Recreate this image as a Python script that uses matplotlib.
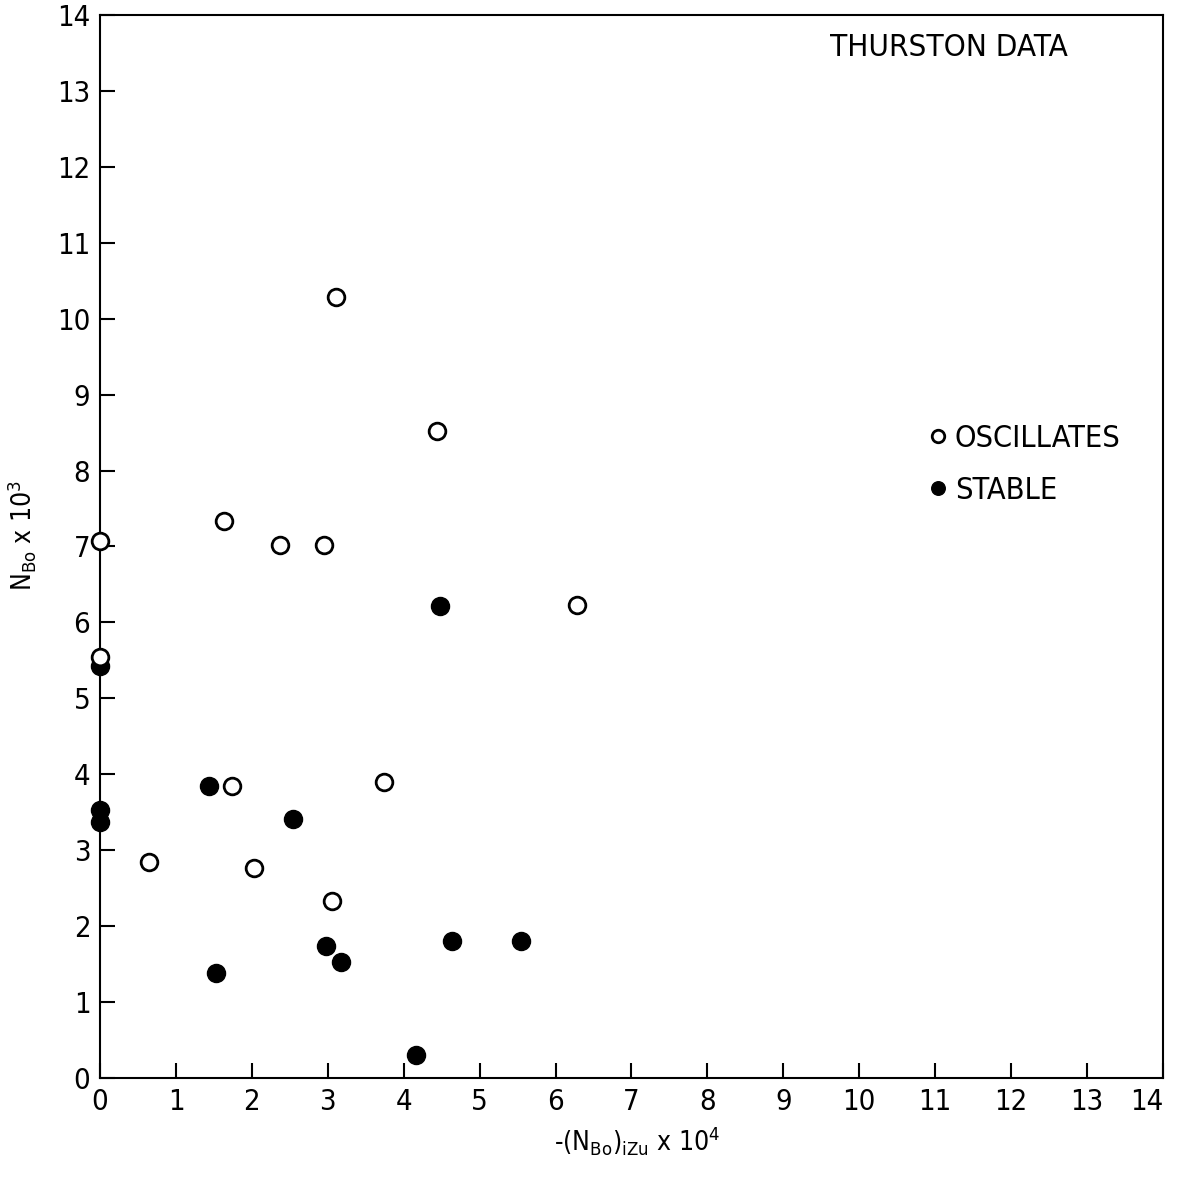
import matplotlib.pyplot as plt

plt.rcParams['font.family'] = ['DejaVu Sans']
plt.rcParams['font.stretch'] = 'condensed'
plt.rcParams['mathtext.default'] = 'regular'

# oscillating runs
osc_x = [0.0, 0.0, 0.65, 1.63, 1.74, 2.03, 2.37, 2.95, 3.11, 3.06, 3.74, 4.44, 6.28]
osc_y = [7.07, 5.55, 2.85, 7.34, 3.85, 2.77, 7.02, 7.02, 10.28, 2.33, 3.90, 8.52, 6.23]

# stable runs
stb_x = [0.0, 0.0, 0.0, 1.44, 2.54, 1.53, 2.98, 3.18, 4.16, 4.48, 4.64, 5.55]
stb_y = [5.43, 3.53, 3.37, 3.85, 3.41, 1.38, 1.74, 1.53, 0.30, 6.21, 1.80, 1.80]

ticks = list(range(0, 15))

fig = plt.figure(figsize=(11.77, 11.79), dpi=100)
ax = fig.add_axes([0.085, 0.0857, 0.903, 0.9016])

ax.plot(stb_x, stb_y, 'o', color='black', markersize=13, clip_on=False,
        label='STABLE', zorder=3)
ax.plot(osc_x, osc_y, 'o', mfc='white', mec='black', mew=2, markersize=12,
        clip_on=False, label='OSCILLATES', zorder=4)

ax.set_xlim(0, 14)
ax.set_ylim(0, 14)
ax.set_xticks(ticks)
ax.set_yticks(ticks)
ax.tick_params(direction='in', length=11, width=1.5, labelsize=21, pad=7)
for s in ax.spines.values():
    s.set_linewidth(1.5)

# keep the last x label inside the figure
last = ax.get_xticklabels()[-1]
last.set_horizontalalignment('right')
last.set_x(14.2)

ax.set_xlabel(r'-$(N_{Bo})_{iZu}$ x $10^4$', fontsize=19)
ax.set_ylabel(r'$N_{Bo}$ x $10^3$', fontsize=19)
ax.xaxis.set_label_coords(0.505, -0.043)
ax.yaxis.set_label_coords(-0.058, 0.51)

ax.text(0.687, 0.969, 'THURSTON DATA', transform=ax.transAxes, fontsize=22.5,
        va='center', ha='left')

h, l = ax.get_legend_handles_labels()
ax.legend(h[::-1], l[::-1], loc='center left', bbox_to_anchor=(0.754, 0.577),
          frameon=False, fontsize=22, handlelength=0.6, handletextpad=0.25,
          markerscale=0.75, labelspacing=0.75)

fig.savefig('out.png', dpi=100)
